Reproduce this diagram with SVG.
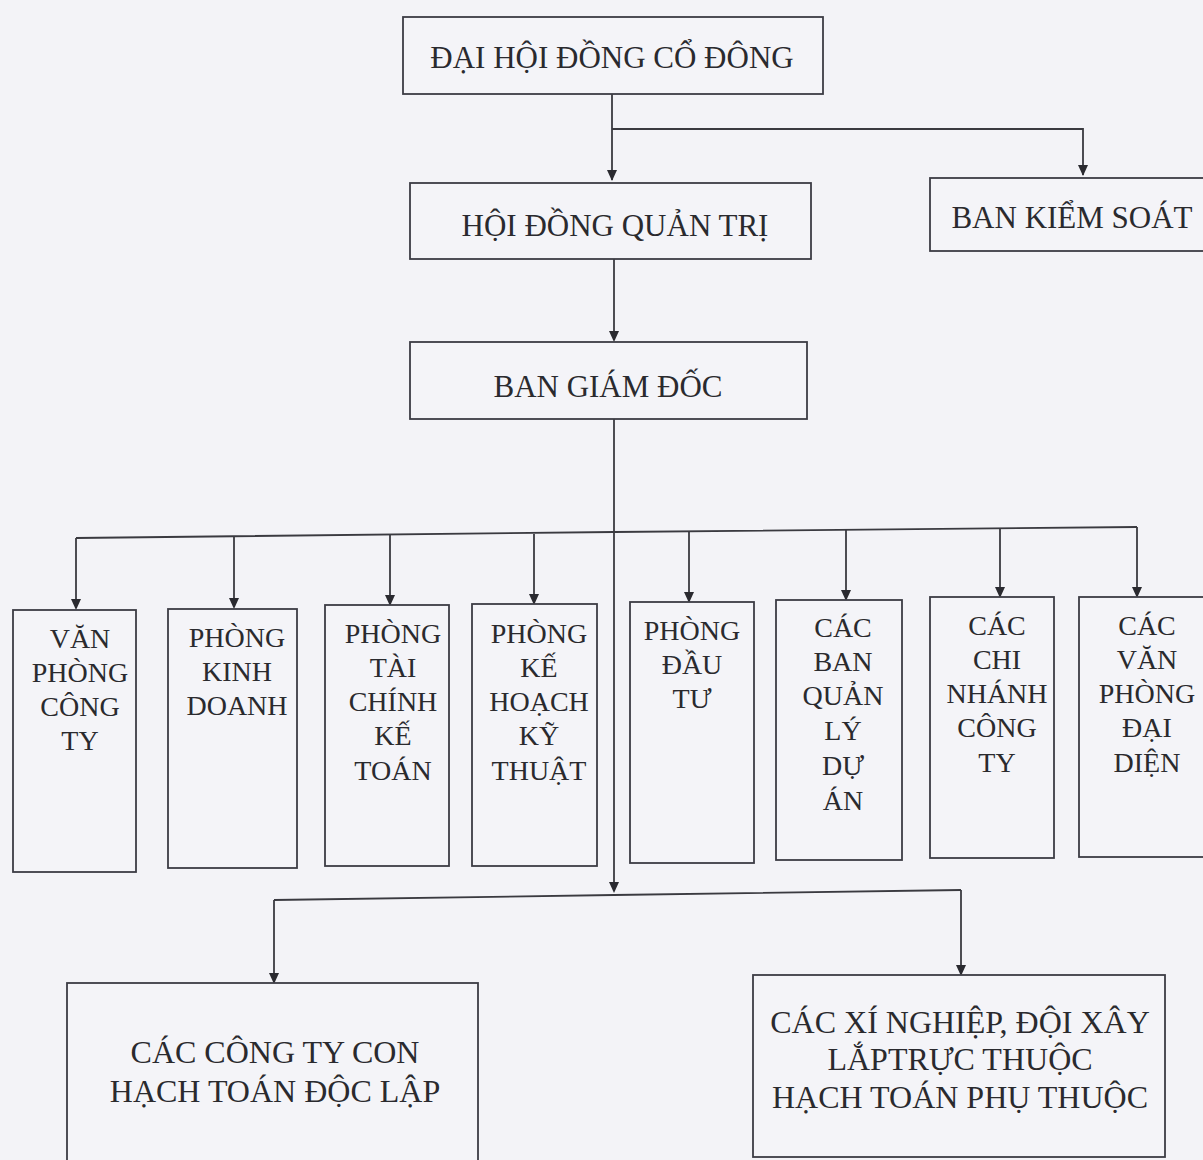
<svg xmlns="http://www.w3.org/2000/svg" width="1203" height="1160" viewBox="0 0 1203 1160">
<style>
.bg{fill:#f3f3f7}
.box{fill:#f4f4f8;stroke:#3c3c44;stroke-width:1.8}
.t{font-family:"Liberation Serif","Times New Roman",serif;fill:#2a2a2e;text-anchor:middle}
.big{font-size:31px}
.bot{font-size:32px}
.mid{font-size:28px}
.ln{fill:none;stroke:#3a3a40;stroke-width:1.8}
</style>
<rect class="bg" x="0" y="0" width="1203" height="1160"/>
<g id="connectors">
<path class="ln" d="M612,94 V180"/>
<path class="ln" d="M612,129 H1083 V175"/>
<path class="ln" d="M614,259 V340"/>
<path class="ln" d="M614,419 V890"/>
<path class="ln" d="M76,538 L614,532 L1137,527"/>
<path class="ln" d="M76,538 V607"/>
<path class="ln" d="M234,537 V606"/>
<path class="ln" d="M390,535 V603"/>
<path class="ln" d="M534,534 V602"/>
<path class="ln" d="M689,531 V600"/>
<path class="ln" d="M846,530 V598"/>
<path class="ln" d="M1000,528 V595"/>
<path class="ln" d="M1137,527 V595"/>
<path class="ln" d="M274,900 L614,895 L961,890"/>
<path class="ln" d="M274,900 V981"/>
<path class="ln" d="M961,890 V973"/>
<g fill="#2a2a30">
<path d="M607,170 L617,170 L612,181 Z"/>
<path d="M1078,165 L1088,165 L1083,176 Z"/>
<path d="M609,331 L619,331 L614,342 Z"/>
<path d="M609,882 L619,882 L614,893 Z"/>
<path d="M71,599 L81,599 L76,610 Z"/>
<path d="M229,598 L239,598 L234,609 Z"/>
<path d="M385,595 L395,595 L390,606 Z"/>
<path d="M529,594 L539,594 L534,605 Z"/>
<path d="M684,592 L694,592 L689,603 Z"/>
<path d="M841,590 L851,590 L846,601 Z"/>
<path d="M995,587 L1005,587 L1000,598 Z"/>
<path d="M1132,587 L1142,587 L1137,598 Z"/>
<path d="M269,973 L279,973 L274,984 Z"/>
<path d="M956,965 L966,965 L961,976 Z"/>
</g>
</g>
<g id="dhdcd">
<rect class="box" x="403" y="17" width="420" height="77"/>
<text class="t big" x="612" y="68">ĐẠI HỘI ĐỒNG CỔ ĐÔNG</text>
</g>
<g id="hdqt">
<rect class="box" x="410" y="183" width="401" height="76"/>
<text class="t big" x="615" y="236">HỘI ĐỒNG QUẢN TRỊ</text>
</g>
<g id="bks">
<rect class="box" x="930" y="178" width="280" height="73"/>
<text class="t big" x="1072" y="228">BAN KIỂM SOÁT</text>
</g>
<g id="bgd">
<rect class="box" x="410" y="342" width="397" height="77"/>
<text class="t big" x="608" y="397">BAN GIÁM ĐỐC</text>
</g>
<g id="vpct">
<rect class="box" x="13" y="610" width="123" height="262"/>
<text class="t mid" x="80"><tspan x="80" y="648">VĂN</tspan><tspan x="80" y="682">PHÒNG</tspan><tspan x="80" y="716">CÔNG</tspan><tspan x="80" y="750">TY</tspan></text>
</g>
<g id="pkd">
<rect class="box" x="168" y="609" width="129" height="259"/>
<text class="t mid" x="237"><tspan x="237" y="647">PHÒNG</tspan><tspan x="237" y="681">KINH</tspan><tspan x="237" y="715">DOANH</tspan></text>
</g>
<g id="ptckt">
<rect class="box" x="325" y="605" width="124" height="261"/>
<text class="t mid" x="393"><tspan x="393" y="643">PHÒNG</tspan><tspan x="393" y="677">TÀI</tspan><tspan x="393" y="711">CHÍNH</tspan><tspan x="393" y="745">KẾ</tspan><tspan x="393" y="780">TOÁN</tspan></text>
</g>
<g id="pkhkt">
<rect class="box" x="472" y="604" width="125" height="262"/>
<text class="t mid" x="539"><tspan x="539" y="643">PHÒNG</tspan><tspan x="539" y="677">KẾ</tspan><tspan x="539" y="711">HOẠCH</tspan><tspan x="539" y="745">KỸ</tspan><tspan x="539" y="780">THUẬT</tspan></text>
</g>
<g id="pdt">
<rect class="box" x="630" y="602" width="124" height="261"/>
<text class="t mid" x="692"><tspan x="692" y="640">PHÒNG</tspan><tspan x="692" y="674">ĐẦU</tspan><tspan x="692" y="708">TƯ</tspan></text>
</g>
<g id="cbqlda">
<rect class="box" x="776" y="600" width="126" height="260"/>
<text class="t mid" x="843"><tspan x="843" y="637">CÁC</tspan><tspan x="843" y="671">BAN</tspan><tspan x="843" y="705">QUẢN</tspan><tspan x="843" y="740">LÝ</tspan><tspan x="843" y="775">DỰ</tspan><tspan x="843" y="810">ÁN</tspan></text>
</g>
<g id="ccnct">
<rect class="box" x="930" y="597" width="124" height="261"/>
<text class="t mid" x="997"><tspan x="997" y="635">CÁC</tspan><tspan x="997" y="669">CHI</tspan><tspan x="997" y="703">NHÁNH</tspan><tspan x="997" y="737">CÔNG</tspan><tspan x="997" y="772">TY</tspan></text>
</g>
<g id="cvpdd">
<rect class="box" x="1079" y="597" width="130" height="260"/>
<text class="t mid" x="1147"><tspan x="1147" y="635">CÁC</tspan><tspan x="1147" y="669">VĂN</tspan><tspan x="1147" y="703">PHÒNG</tspan><tspan x="1147" y="737">ĐẠI</tspan><tspan x="1147" y="772">DIỆN</tspan></text>
</g>
<g id="cctc">
<rect class="box" x="67" y="983" width="411" height="190"/>
<text class="t bot" x="275"><tspan x="275" y="1063">CÁC CÔNG TY CON</tspan><tspan x="275" y="1102">HẠCH TOÁN ĐỘC LẬP</tspan></text>
</g>
<g id="cxn">
<rect class="box" x="753" y="975" width="412" height="182"/>
<text class="t bot" x="960"><tspan x="960" y="1033">CÁC XÍ NGHIỆP, ĐỘI XÂY</tspan><tspan x="960" y="1070">LẮPTRỰC THUỘC</tspan><tspan x="960" y="1108">HẠCH TOÁN PHỤ THUỘC</tspan></text>
</g>
</svg>
